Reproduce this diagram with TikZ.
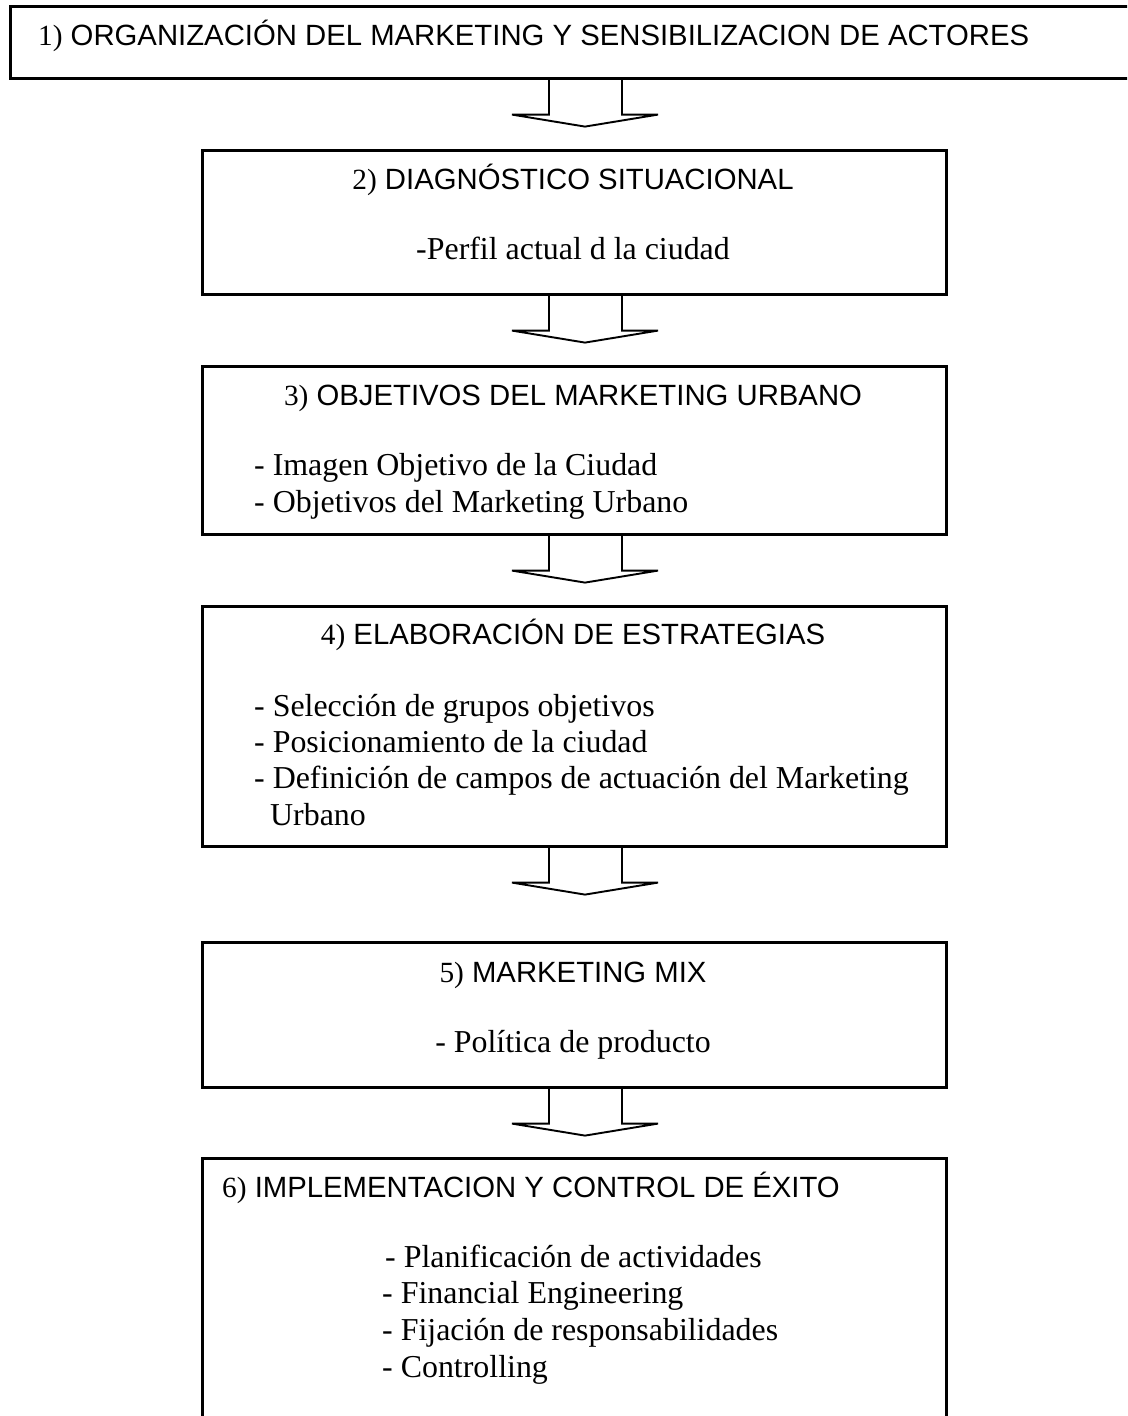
\documentclass[tikz,border=0pt]{standalone}
\usepackage{fontspec}
\setmainfont{Liberation Serif}
\setsansfont{Liberation Sans}
\usetikzlibrary{calc}
\tikzset{
  box/.style={draw, line width=2.6pt, rectangle, inner sep=0pt, anchor=north west},
  arr/.style={draw, line width=1.9pt, line join=miter},
  head/.style={inner sep=0pt, font=\fontsize{29.3}{35}\selectfont\sffamily},
  body/.style={inner sep=0pt, font=\fontsize{31.9}{36.7}\selectfont\rmfamily}
}
\newcommand\num[1]{{\rmfamily #1}}
\begin{document}
\begin{tikzpicture}[x=1pt,y=-1pt]
\useasboundingbox (0,0) rectangle (1127,1416);
\clip (0,0) rectangle (1127,1416);
\fill[white] (0,0) rectangle (1127,1416);
\coordinate (ax) at (585,0);
% boxes
\node[box, minimum width=1131pt, minimum height=72pt] (b1) at (9,5) {};
\node[box, minimum width=744pt, minimum height=144pt] (b2) at (201,149) {};
\node[box, minimum width=744pt, minimum height=168pt] (b3) at (201,365) {};
\node[box, minimum width=744pt, minimum height=240pt] (b4) at (201,605) {};
\node[box, minimum width=744pt, minimum height=145pt] (b5) at (201,941) {};
\node[box, minimum width=744pt, minimum height=290pt] (b6) at (201,1157) {};
% headings
\node[head, anchor=base west] (h1) at (38,45) {\num{1)} ORGANIZACIÓN DEL MARKETING Y SENSIBILIZACION DE ACTORES};
\node[head, anchor=base] (h2) at (573,189) {\num{2)} DIAGNÓSTICO SITUACIONAL};
\node[head, anchor=base] (h3) at (573,405) {\num{3)} OBJETIVOS DEL MARKETING URBANO};
\node[head, anchor=base] (h4) at (573,644) {\num{4)} ELABORACIÓN DE ESTRATEGIAS};
\node[head, anchor=base] (h5) at (573,982) {\num{5)} MARKETING MIX};
\node[head, anchor=base west] (h6) at (222,1197) {\num{6)} IMPLEMENTACION Y CONTROL DE ÉXITO};
% body texts
\node[body, anchor=base] (t2) at (573,259) {-Perfil actual d la ciudad};
\node[body, anchor=base west] (t3a) at (254,475) {- Imagen Objetivo de la Ciudad};
\node[body, anchor=base west] (t3b) at (254,512) {- Objetivos del Marketing Urbano};
\node[body, anchor=base west] (t4a) at (254,716) {- Selección de grupos objetivos};
\node[body, anchor=base west] (t4b) at (254,752) {- Posicionamiento de la ciudad};
\node[body, anchor=base west] (t4c) at (254,788) {- Definición de campos de actuación del Marketing};
\node[body, anchor=base west] (t4d) at (270,825) {Urbano};
\node[body, anchor=base] (t5) at (573,1052) {- Política de producto};
\node[body, anchor=base west] (t6a) at (385,1267) {- Planificación de actividades};
\node[body, anchor=base west] (t6b) at (382,1303) {- Financial Engineering};
\node[body, anchor=base west] (t6c) at (382,1340) {- Fijación de responsabilidades};
\node[body, anchor=base west] (t6d) at (382,1377) {- Controlling};
% block arrows
\foreach \n in {1,...,5} {
  \draw[arr] ($(b\n.south -| ax)+(-36,0)$) -- ++(0,35) -- ++(-37,0)
    -- ($(b\n.south -| ax)+(0,47)$) -- ($(b\n.south -| ax)+(73,35)$)
    -- ++(-36,0) -- ++(0,-35);
}
\end{tikzpicture}
\end{document}
